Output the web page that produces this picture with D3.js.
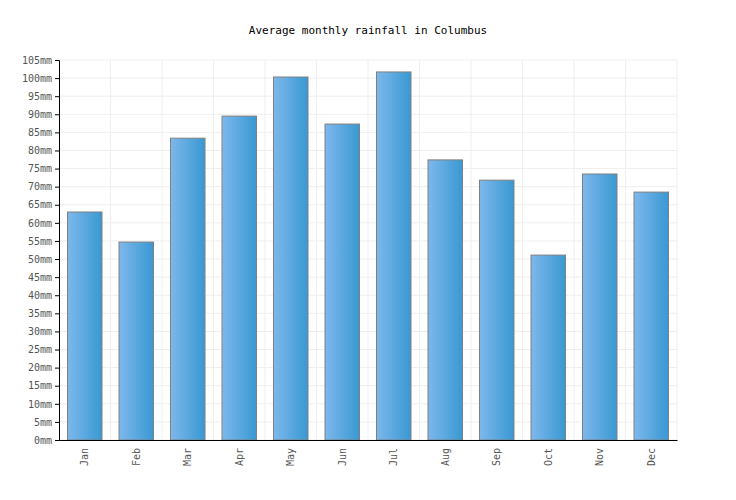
<!DOCTYPE html>
<html><head><meta charset="utf-8">
<script src="https://cdn.jsdelivr.net/npm/d3@7"></script>
<style>body{margin:0;background:#fff}text{font-family:"DejaVu Sans Mono",monospace}</style>
</head><body>
<div id="chart"></div>
<script>
// Monthly rainfall (mm)
const months = ["Jan","Feb","Mar","Apr","May","Jun","Jul","Aug","Sep","Oct","Nov","Dec"];
const rainfall = [63.0, 54.7, 83.4, 89.5, 100.3, 87.3, 101.7, 77.4, 71.8, 51.1, 73.5, 68.5];
const yTicks = d3.range(0, 106, 5);

const svg = d3.select("#chart").append("svg")
  .attr("width", 736).attr("height", 500);

const margin = { top: 60, right: 59, bottom: 60, left: 59 };
const width = 736 - margin.left - margin.right;
const height = 500 - margin.top - margin.bottom;

const defs = svg.append("defs");
const grad = defs.append("linearGradient").attr("id", "barGrad")
  .attr("x1", "0%").attr("x2", "100%").attr("y1", "0%").attr("y2", "0%");
grad.append("stop").attr("offset", "0%").attr("stop-color", "#7db8ec");
grad.append("stop").attr("offset", "100%").attr("stop-color", "#3998d2");

svg.append("text")
  .attr("x", 368).attr("y", 34)
  .attr("text-anchor", "middle")
  .attr("font-size", 11).attr("fill", "#000")
  .text("Average monthly rainfall in Columbus");

const chart = svg.append("g").attr("transform", `translate(${margin.left},${margin.top})`);

const x = d3.scaleBand().domain(months).range([0, width]).paddingInner(0.33).paddingOuter(0.165);
const y = d3.scaleLinear().domain([0, 105]).range([height, 0]);

// grid
chart.append("g").selectAll("line.h").data(yTicks).enter().append("line")
  .attr("x1", 0).attr("x2", width)
  .attr("y1", d => y(d)).attr("y2", d => y(d))
  .attr("stroke", "#eeeeee");
const step = x.step();
chart.append("g").selectAll("line.v").data(d3.range(1, 13)).enter().append("line")
  .attr("x1", d => d * step).attr("x2", d => d * step)
  .attr("y1", 0).attr("y2", height)
  .attr("stroke", "#eeeeee");

chart.selectAll("rect.bar").data(months).enter().append("rect")
  .attr("class", "bar")
  .attr("x", d => x(d))
  .attr("y", (d, i) => y(rainfall[i]))
  .attr("width", x.bandwidth())
  .attr("height", (d, i) => height - y(rainfall[i]))
  .attr("fill", "url(#barGrad)")
  .attr("stroke", "#808080").attr("stroke-width", 1);

const yAxis = chart.append("g")
  .call(d3.axisLeft(y).tickValues(yTicks).tickSize(4).tickFormat(d => d + "mm"));
yAxis.select(".domain").attr("stroke", "#000");
yAxis.selectAll("text").attr("font-size", 10).attr("fill", "#555").attr("font-family", "DejaVu Sans Mono");

const xAxis = chart.append("g").attr("transform", `translate(0,${height})`)
  .call(d3.axisBottom(x).tickSize(0).tickSizeOuter(0));
xAxis.select(".domain").attr("stroke", "#000");
xAxis.selectAll("text")
  .attr("font-size", 10).attr("fill", "#555").attr("font-family", "DejaVu Sans Mono")
  .attr("transform", "rotate(-90)")
  .attr("text-anchor", "end")
  .attr("x", -8).attr("y", 0).attr("dy", "0.35em");
</script>
</body></html>
